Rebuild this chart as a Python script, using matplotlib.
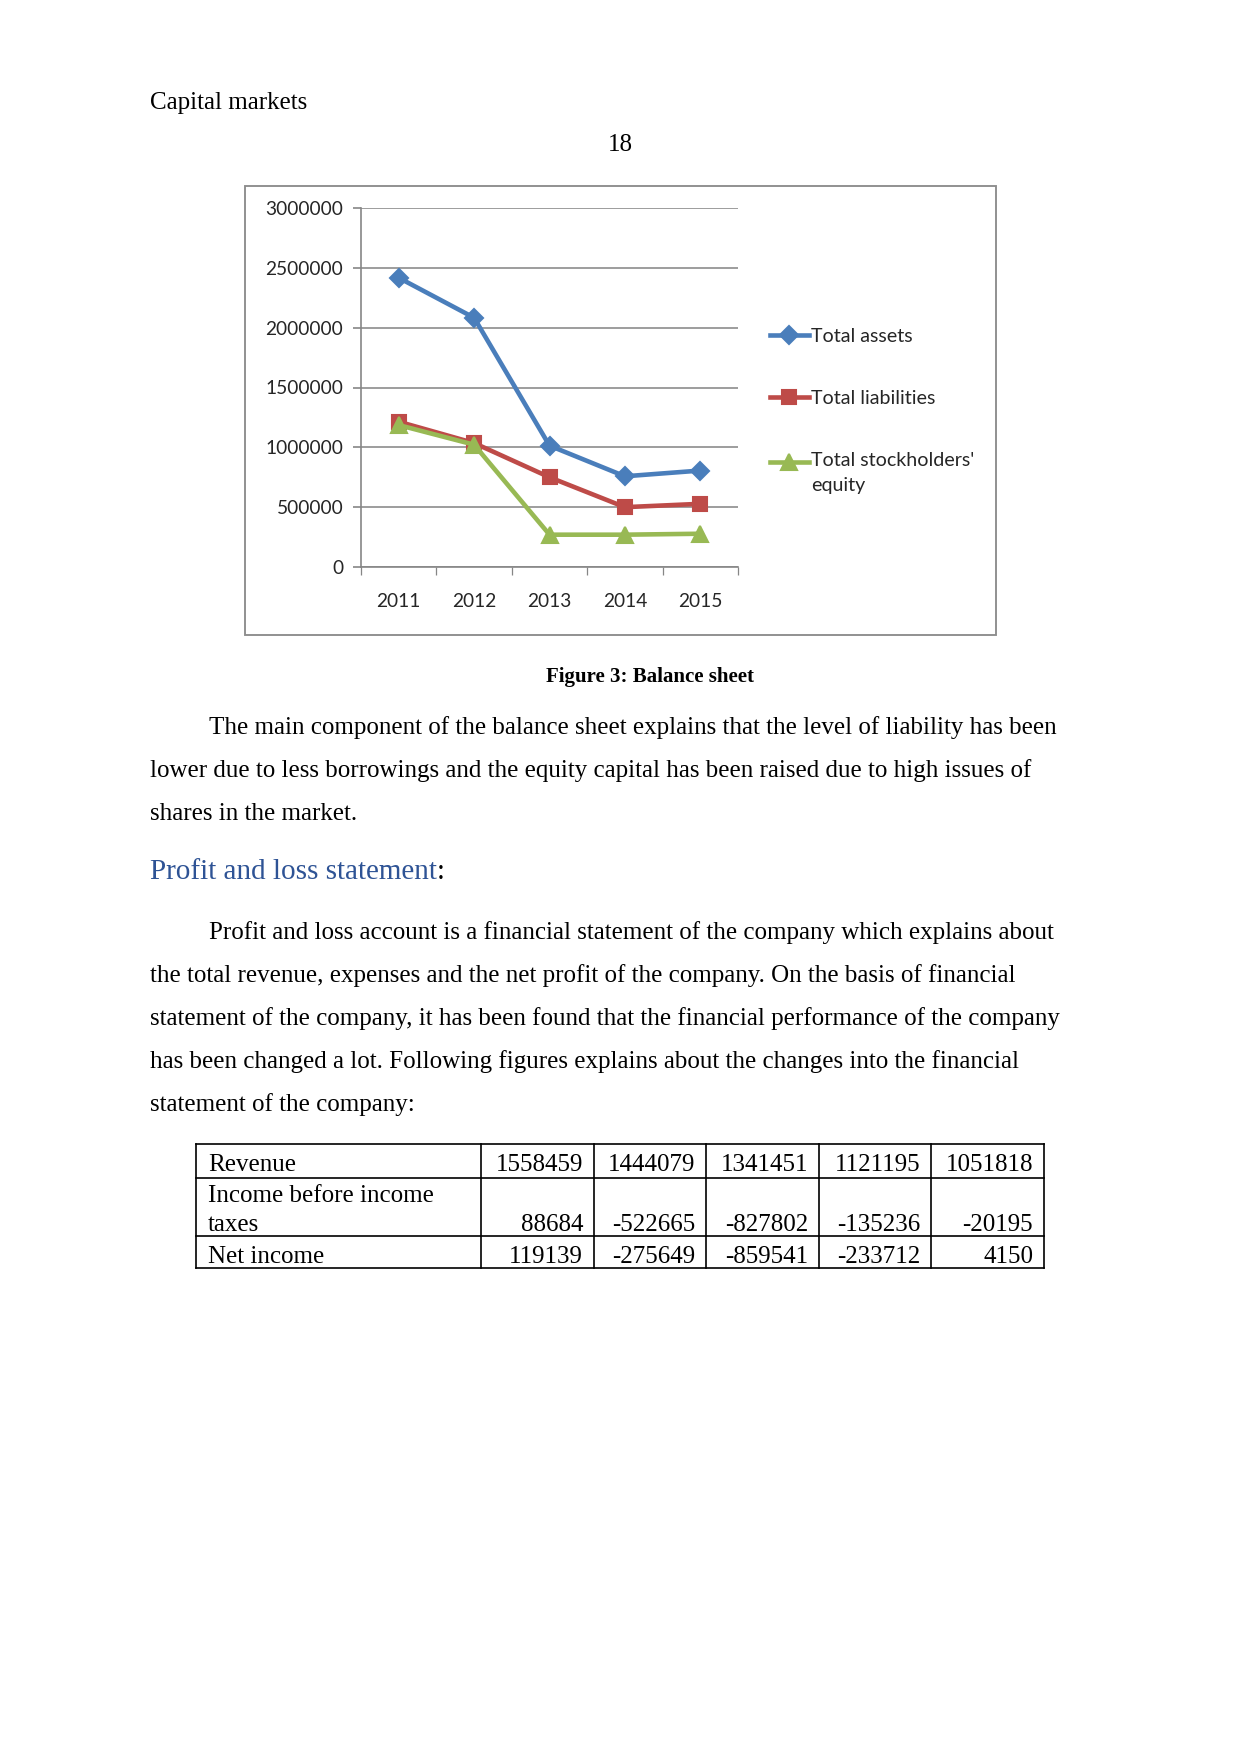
import matplotlib.pyplot as plt
from matplotlib.patches import Rectangle
from matplotlib.legend_handler import HandlerLine2D

W, H = 1241, 1754

# chart data
years       = ['2011', '2012', '2013', '2014', '2015']
assets      = [2417000, 2083000, 1014000, 758000, 806000]
liabilities = [1214000, 1036000, 750000, 500000, 528000]
equity      = [1186000, 1022000, 270000, 270000, 278000]
yticks      = [0, 500000, 1000000, 1500000, 2000000, 2500000, 3000000]

# table data
row_labels = ['Revenue', 'Income before income\ntaxes', 'Net income']
revenue    = [1558459, 1444079, 1341451, 1121195, 1051818]
pre_tax    = [88684, -522665, -827802, -135236, -20195]
net_income = [119139, -275649, -859541, -233712, 4150]

para1 = ["The main component of the balance sheet explains that the level of liability has been",
         "lower due to less borrowings and the equity capital has been raised due to high issues of",
         "shares in the market."]
para2 = ["Profit and loss account is a financial statement of the company which explains about",
         "the total revenue, expenses and the net profit of the company. On the basis of financial",
         "statement of the company, it has been found that the financial performance of the company",
         "has been changed a lot. Following figures explains about the changes into the financial",
         "statement of the company:"]

serif = 'Liberation Serif'
sans = 'Lato'
tick_fs = 9.2


class FirstLineHandler(HandlerLine2D):
    # put the legend key next to the first line of a two-line label
    def __init__(self, lift, **kw):
        super().__init__(**kw)
        self.lift = lift

    def create_artists(self, legend, orig_handle, xdescent, ydescent, width, height,
                       fontsize, trans):
        return super().create_artists(legend, orig_handle, xdescent, ydescent, width,
                                      height + 2 * self.lift, fontsize, trans)


fig = plt.figure(figsize=(W / 150, H / 150), dpi=150)
fig.patch.set_facecolor('white')

# page layer in pixel coords
page = fig.add_axes([0, 0, 1, 1])
page.set_xlim(0, W)
page.set_ylim(H, 0)
page.axis('off')

page.text(150, 103, 'Capital markets', family=serif, fontsize=12, va='center')
page.text(620, 145, '18', family=serif, fontsize=12, va='center', ha='center')

# chart frame
page.add_patch(Rectangle((245, 186), 751, 449, fill=False, edgecolor='#8c8c8c', lw=0.9))

page.text(650, 677, 'Figure 3: Balance sheet', family=serif, fontsize=10, weight='bold',
          va='center', ha='center')

line_h = 43
for i, s in enumerate(para1):
    page.text(209 if i == 0 else 150, 728 + i * line_h, s, family=serif, fontsize=12, va='center')

page.text(150, 872, 'Profit and loss statement', family=serif, fontsize=14,
          color='#2e5395', va='center')
page.text(437, 872, ':', family=serif, fontsize=14, va='center')

for i, s in enumerate(para2):
    page.text(209 if i == 0 else 150, 933 + i * line_h, s, family=serif, fontsize=12, va='center')

# table
col_x = [196, 481, 594, 706, 819, 931, 1044]
row_y = [1144, 1178, 1236, 1268]
for x in col_x:
    page.plot([x, x], [row_y[0], row_y[-1]], color='black', lw=0.8)
for y in row_y:
    page.plot([col_x[0], col_x[-1]], [y, y], color='black', lw=0.8)

rows = [revenue, pre_tax, net_income]
label_y = [1165, 1196, 1257]
value_y = [1165, 1225, 1257]
for r, (lab, vals) in enumerate(zip(row_labels, rows)):
    page.text(208, label_y[r], lab.split('\n')[0], family=serif, fontsize=12, va='center')
    if '\n' in lab:
        page.text(208, value_y[r], lab.split('\n')[1], family=serif, fontsize=12, va='center')
    for c, v in enumerate(vals):
        page.text(col_x[c + 2] - 11, value_y[r], str(v), family=serif, fontsize=12,
                  va='center', ha='right')

# chart axes
ax = fig.add_axes([361 / W, 1 - 567 / H, (738 - 361) / W, (567 - 208) / H])
x = list(range(len(years)))
ax.plot(x, assets, color='#4a7ebb', lw=2.2, marker='D', ms=6, label='Total assets')
ax.plot(x, liabilities, color='#be4b48', lw=2.2, marker='s', ms=7, label='Total liabilities')
eq_line, = ax.plot(x, equity, color='#98b954', lw=2.2, marker='^', ms=7.5,
                   label="Total stockholders'\nequity")
ax.set_xlim(-0.5, len(years) - 0.5)
ax.set_ylim(0, 3000000)
ax.set_yticks(yticks)
ax.set_yticklabels([str(t) for t in yticks])
ax.set_xticks(x)
ax.set_xticklabels(years)
ax.set_xticks([i - 0.5 for i in range(len(years) + 1)], minor=True)
ax.tick_params(axis='x', which='major', length=0, pad=12.5)
ax.tick_params(axis='x', which='minor', length=4, color='#868686', direction='out')
ax.tick_params(axis='y', length=4, color='#868686', direction='out', pad=4.5)
ax.tick_params(labelsize=tick_fs, labelcolor='#262626')
for lbl in ax.get_xticklabels() + ax.get_yticklabels():
    lbl.set_family(sans)
ax.grid(axis='y', color='#8c8c8c', lw=0.8)
ax.set_axisbelow(True)
for side in ['top', 'right']:
    ax.spines[side].set_visible(False)
for side in ['left', 'bottom']:
    ax.spines[side].set_color('#868686')
    ax.spines[side].set_linewidth(0.8)

leg = ax.legend(loc='upper left', bbox_to_anchor=(752 / W, 1 - 310 / H),
                bbox_transform=fig.transFigure, frameon=False,
                handlelength=2.0, handletextpad=0.1, labelspacing=2.3,
                prop={'family': sans, 'size': 9.4},
                handler_map={eq_line: FirstLineHandler(lift=5.5)})
for t in leg.get_texts():
    t.set_color('#262626')
    t.set_linespacing(1.6)

fig.savefig('out.png', dpi=150, facecolor='white')
